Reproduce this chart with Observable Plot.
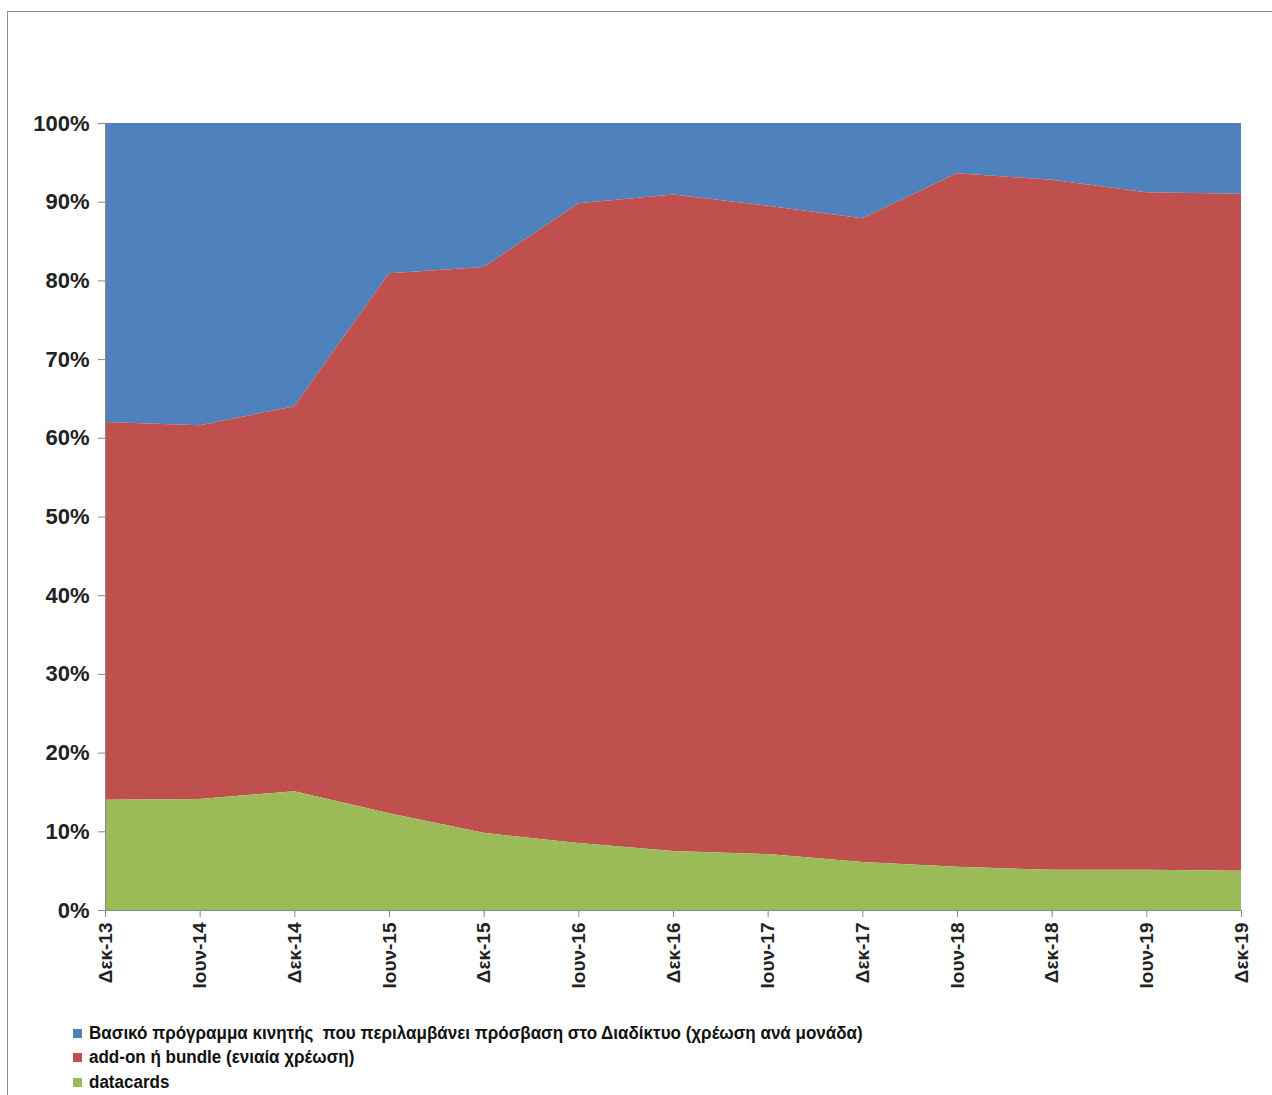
<!DOCTYPE html>
<html>
<head>
<meta charset="utf-8">
<script src="https://cdn.jsdelivr.net/npm/d3@7"></script>
<script src="https://cdn.jsdelivr.net/npm/@observablehq/plot@0.6"></script>
<style>
  html, body { margin: 0; padding: 0; background: #fff; }
  #wrap { position: relative; width: 1272px; height: 1095px; overflow: hidden; }
  #frame { position: absolute; left: 7px; top: 11px; width: 1280px; height: 1100px; border: 1.5px solid #8c8c8c; box-sizing: border-box; }
  #chart { position: absolute; left: 0; top: 0; }
  #legend { position: absolute; left: 73px; top: 1021px; font-family: "Liberation Sans", Arial, sans-serif; font-size: 18px; font-weight: 600; color: #111; }
  #legend .item { display: flex; align-items: center; height: 24.5px; }
  #legend .sw { width: 9px; height: 9px; margin-right: 7px; flex: none; }
  #legend .txt { display: inline-block; white-space: pre; transform: scaleX(0.945); transform-origin: left center; }
</style>
</head>
<body>
<div id="wrap">
  <div id="frame"></div>
  <div id="chart"></div>
  <div id="legend"></div>
</div>
<script>
const periods = ["Δεκ-13","Ιουν-14","Δεκ-14","Ιουν-15","Δεκ-15","Ιουν-16","Δεκ-16","Ιουν-17","Δεκ-17","Ιουν-18","Δεκ-18","Ιουν-19","Δεκ-19"];
const seriesNames = [
  "Βασικό πρόγραμμα κινητής  που περιλαμβάνει πρόσβαση στο Διαδίκτυο (χρέωση ανά μονάδα)",
  "add-on ή bundle (ενιαία χρέωση)",
  "datacards"
];
const seriesColors = ["#4F81BD", "#C0504D", "#9BBB59"];
// shares in %
const datacards = [14.0, 14.1, 15.1, 12.3, 9.8, 8.5, 7.5, 7.1, 6.1, 5.5, 5.1, 5.1, 5.0];
const addon     = [48.0, 47.5, 48.9, 68.6, 71.9, 81.3, 83.4, 82.4, 81.8, 88.1, 87.7, 86.1, 86.0];
const basic     = [38.0, 38.4, 36.0, 19.1, 18.3, 10.2, 9.1, 10.5, 12.1, 6.4, 7.2, 8.8, 9.0];

const seriesValues = [basic, addon, datacards];
const rows = [];
seriesNames.forEach((name, s) => {
  periods.forEach((p, i) => rows.push({i, series: name, value: seriesValues[s][i]}));
});

const chart = Plot.plot({
  width: 1272,
  height: 1000,
  marginLeft: 105,
  marginRight: 31,
  marginTop: 123,
  marginBottom: 90,
  style: {fontFamily: "Liberation Sans, Arial, sans-serif", background: "transparent"},
  x: {domain: [0, periods.length - 1]},
  y: {domain: [0, 1]},
  color: {domain: seriesNames, range: seriesColors},
  marks: [
    Plot.areaY(rows, Plot.stackY({offset: "normalize", order: [seriesNames[2], seriesNames[1], seriesNames[0]]}, {
      x: "i", y: "value", z: "series", fill: "series"
    })),
    Plot.ruleX([0], {stroke: "#888", strokeWidth: 1}),
    Plot.ruleY([0], {stroke: "#888", strokeWidth: 1}),
    Plot.axisY({
      ticks: d3.range(0, 1.0001, 0.1),
      tickFormat: d => Math.round(d * 100) + "%",
      tickSize: 7, tickPadding: 9, stroke: "#888",
      fontSize: 22, fontWeight: "bold", fill: "#222", label: null
    }),
    Plot.axisX({
      ticks: d3.range(periods.length),
      tickFormat: i => periods[i],
      tickRotate: -90, tickSize: 7, tickPadding: 5, stroke: "#888",
      fontSize: 19, fontWeight: "bold", fill: "#222", label: null
    })
  ]
});
document.getElementById("chart").appendChild(chart);

const legend = document.getElementById("legend");
seriesNames.forEach((name, s) => {
  const item = document.createElement("div");
  item.className = "item";
  const sw = document.createElement("span");
  sw.className = "sw";
  sw.style.background = seriesColors[s];
  const t = document.createElement("span");
  t.className = "txt";
  t.textContent = name;
  item.appendChild(sw); item.appendChild(t);
  legend.appendChild(item);
});
</script>
</body>
</html>
